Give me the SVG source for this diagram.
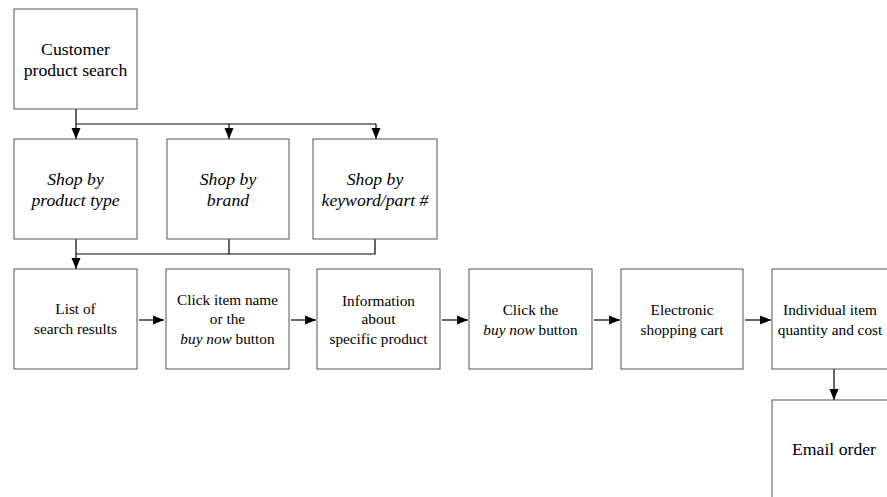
<svg xmlns="http://www.w3.org/2000/svg" width="887" height="497" viewBox="0 0 887 497">
<style>
.box{fill:#fff;stroke:#555;stroke-width:1}
.ln{fill:none;stroke:#000;stroke-width:1.2}
</style>
<defs>
<marker id="ah" markerUnits="userSpaceOnUse" markerWidth="12" markerHeight="12" viewBox="0 0 12 12" refX="11" refY="6" orient="auto">
<path d="M0,1.5 L11,6 L0,10.5 Z" fill="#000"/>
</marker>
</defs>
<rect width="887" height="497" fill="#fff"/>
<g id="connectors">
<path class="ln" d="M76,109 V124 M76,124 H376"/>
<path class="ln" d="M76,124 V139" marker-end="url(#ah)"/>
<path class="ln" d="M229,124 V139" marker-end="url(#ah)"/>
<path class="ln" d="M376,124 V139" marker-end="url(#ah)"/>
<path class="ln" d="M229,239 V254 M375,239 V254 H76"/>
<path class="ln" d="M76,239 V269" marker-end="url(#ah)"/>
<path class="ln" d="M139,320 H164" marker-end="url(#ah)"/>
<path class="ln" d="M291,320 H316" marker-end="url(#ah)"/>
<path class="ln" d="M442,320 H468" marker-end="url(#ah)"/>
<path class="ln" d="M594,320 H620" marker-end="url(#ah)"/>
<path class="ln" d="M745,320 H771" marker-end="url(#ah)"/>
<path class="ln" d="M834,369 V400" marker-end="url(#ah)"/>
</g>
<g id="customer">
<rect class="box" x="14" y="9" width="123" height="100"/>
<text x="75.5" y="55" text-anchor="middle" font-family="Liberation Serif" font-size="17.7">Customer</text>
<text x="75.5" y="75.5" text-anchor="middle" font-family="Liberation Serif" font-size="17.7">product search</text>
</g>
<g id="shop-type">
<rect class="box" x="14" y="139" width="123" height="100"/>
<text x="75.5" y="185" text-anchor="middle" font-family="Liberation Serif" font-size="17.7" font-style="italic">Shop by</text>
<text x="75.5" y="206" text-anchor="middle" font-family="Liberation Serif" font-size="17.7" font-style="italic">product type</text>
</g>
<g id="shop-brand">
<rect class="box" x="167" y="139" width="122" height="100"/>
<text x="228" y="185" text-anchor="middle" font-family="Liberation Serif" font-size="17.7" font-style="italic">Shop by</text>
<text x="228" y="206" text-anchor="middle" font-family="Liberation Serif" font-size="17.7" font-style="italic">brand</text>
</g>
<g id="shop-keyword">
<rect class="box" x="313" y="139" width="124" height="100"/>
<text x="375" y="185" text-anchor="middle" font-family="Liberation Serif" font-size="17.7" font-style="italic">Shop by</text>
<text x="375" y="206" text-anchor="middle" font-family="Liberation Serif" font-size="17.7" font-style="italic">keyword/part #</text>
</g>
<g id="list">
<rect class="box" x="14" y="269" width="123" height="100"/>
<text x="75.5" y="313.5" text-anchor="middle" font-family="Liberation Serif" font-size="15.3">List of</text>
<text x="75.5" y="334" text-anchor="middle" font-family="Liberation Serif" font-size="15.3">search results</text>
</g>
<g id="click-item">
<rect class="box" x="166" y="269" width="123" height="100"/>
<text x="227.5" y="305" text-anchor="middle" font-family="Liberation Serif" font-size="15.3">Click item name</text>
<text x="227.5" y="324" text-anchor="middle" font-family="Liberation Serif" font-size="15.3">or the</text>
<text x="227.5" y="344" text-anchor="middle" font-family="Liberation Serif" font-size="15.3"><tspan font-style="italic">buy now</tspan> button</text>
</g>
<g id="info">
<rect class="box" x="317" y="269" width="123" height="100"/>
<text x="378.5" y="305.5" text-anchor="middle" font-family="Liberation Serif" font-size="15.3">Information</text>
<text x="378.5" y="324" text-anchor="middle" font-family="Liberation Serif" font-size="15.3">about</text>
<text x="378.5" y="343.5" text-anchor="middle" font-family="Liberation Serif" font-size="15.3">specific product</text>
</g>
<g id="click-buy">
<rect class="box" x="469" y="269" width="123" height="100"/>
<text x="530.5" y="315" text-anchor="middle" font-family="Liberation Serif" font-size="15.3">Click the</text>
<text x="530.5" y="334.5" text-anchor="middle" font-family="Liberation Serif" font-size="15.3"><tspan font-style="italic">buy now</tspan> button</text>
</g>
<g id="cart">
<rect class="box" x="621" y="269" width="122" height="100"/>
<text x="682" y="315" text-anchor="middle" font-family="Liberation Serif" font-size="15.3">Electronic</text>
<text x="682" y="334.5" text-anchor="middle" font-family="Liberation Serif" font-size="15.3">shopping cart</text>
</g>
<g id="item-qty">
<rect class="box" x="772" y="269" width="123" height="100"/>
<text x="830" y="315" text-anchor="middle" font-family="Liberation Serif" font-size="15.3">Individual item</text>
<text x="830" y="334.5" text-anchor="middle" font-family="Liberation Serif" font-size="15.3">quantity and cost</text>
</g>
<g id="email">
<rect class="box" x="772" y="400" width="123" height="100"/>
<text x="834" y="455" text-anchor="middle" font-family="Liberation Serif" font-size="17.7">Email order</text>
</g>
</svg>
